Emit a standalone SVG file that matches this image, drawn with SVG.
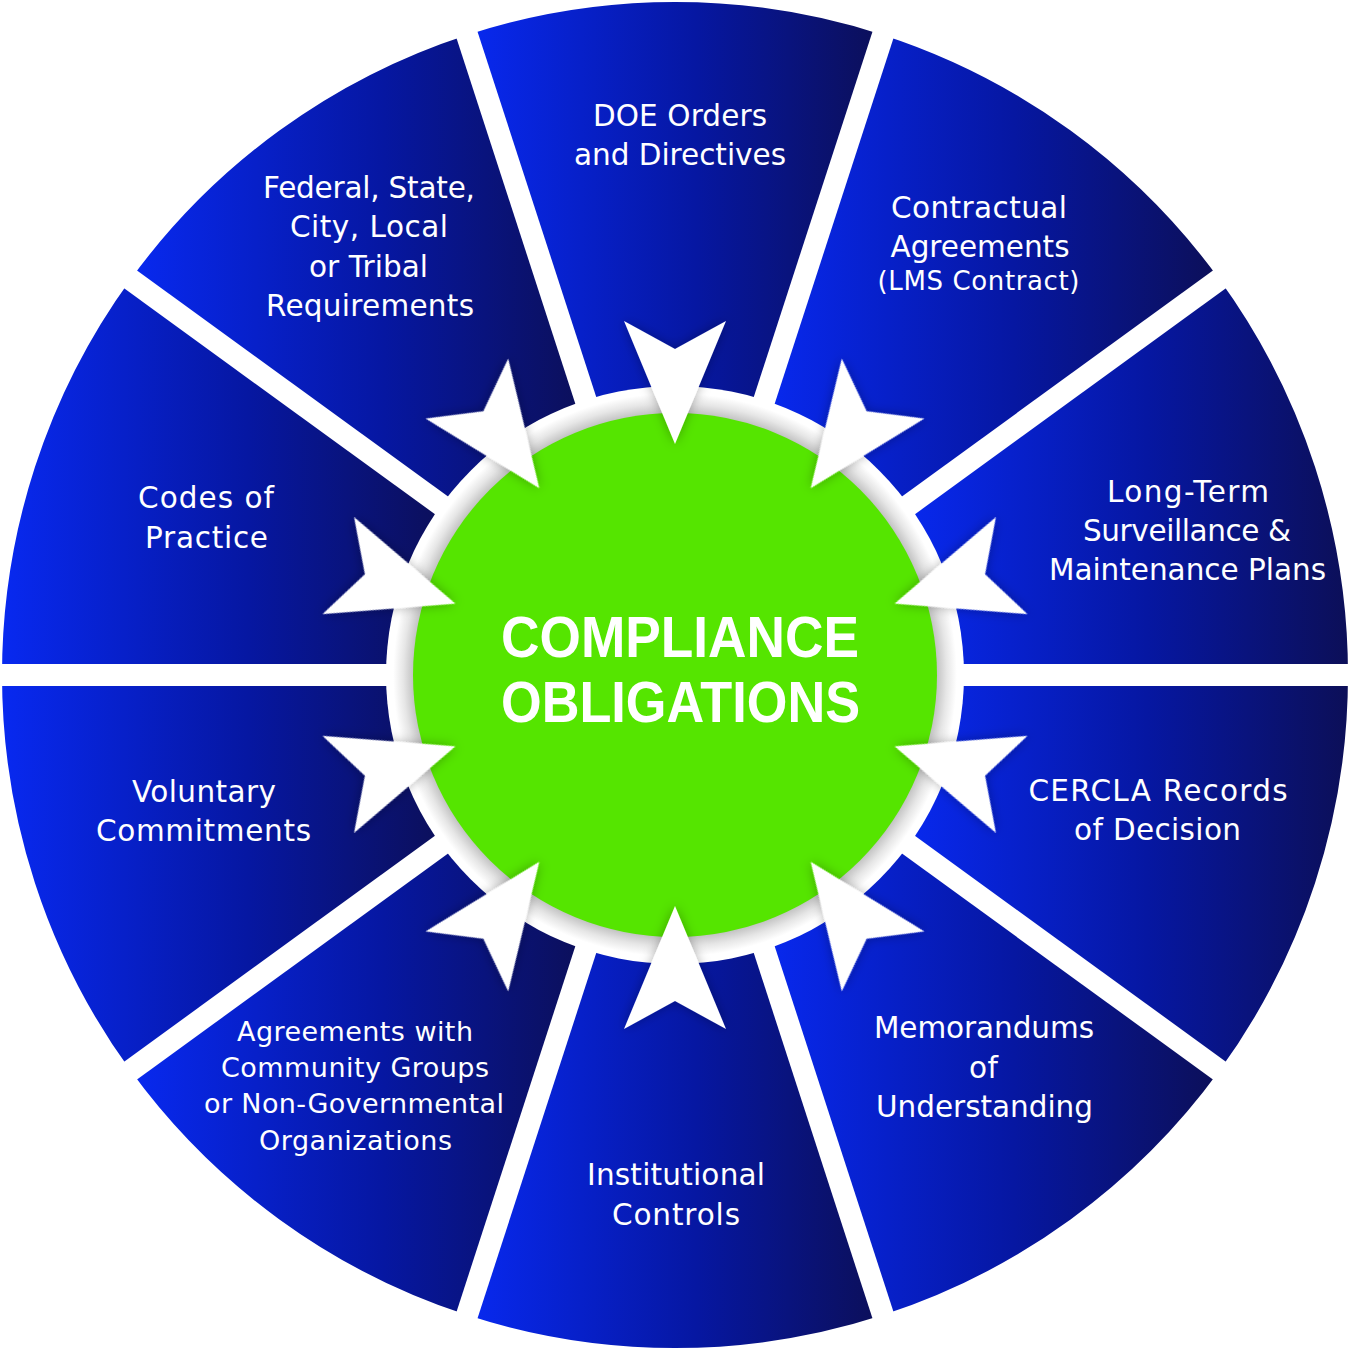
<svg xmlns="http://www.w3.org/2000/svg" width="1350" height="1353" viewBox="0 0 1350 1353">
<defs>
<linearGradient id="wg" x1="0" y1="0" x2="1" y2="0">
<stop offset="0" stop-color="#0829f0"/>
<stop offset="0.55" stop-color="#0617a2"/>
<stop offset="1" stop-color="#0c0f58"/>
</linearGradient>
<radialGradient id="ringg" cx="675" cy="675" r="289" gradientUnits="userSpaceOnUse">
<stop offset="0.9" stop-color="#bdbdbd"/>
<stop offset="0.94" stop-color="#e6e6e6"/>
<stop offset="0.975" stop-color="#ffffff"/>
<stop offset="1" stop-color="#ffffff"/>
</radialGradient>
<filter id="sh" x="-30%" y="-30%" width="160%" height="160%">
<feDropShadow dx="0" dy="0" stdDeviation="6" flood-color="#000" flood-opacity="0.3"/>
</filter>
<polygon id="arrow" points="675,444 624,321 675,349 726,321"/>
</defs>
<style>
.wedge{fill:url(#wg)}
.lbl{font-family:"DejaVu Sans","Liberation Sans",sans-serif;font-size:29.5px;font-weight:400;fill:#fff;text-anchor:middle}
.sm{font-size:27px}
.xs{font-size:26px}
.title{font-family:"Liberation Sans",Arial,sans-serif;font-size:58px;font-weight:700;fill:#fff;text-anchor:middle}
.gap{stroke:#fff;stroke-width:22;fill:none}
.arr{fill:#fff;filter:url(#sh)}
</style>
<rect width="1350" height="1353" fill="#fff"/>

<g id="node-doe">
<path class="wedge" d="M467.03,34.94 A673,673 0 0 1 882.97,34.94 L761.53,408.70 A280,280 0 0 0 588.47,408.70 Z"/>
<text class="lbl" x="680" y="126" textLength="174">DOE Orders</text>
<text class="lbl" x="680" y="165" textLength="212">and Directives</text>
</g>
<g id="node-contractual">
<path class="wedge" d="M882.97,34.94 A673,673 0 0 1 1219.47,279.42 L901.53,510.42 A280,280 0 0 0 761.53,408.70 Z"/>
<text class="lbl" x="979" y="218" textLength="176">Contractual</text>
<text class="lbl" x="980" y="257" textLength="179">Agreements</text>
<text class="lbl xs" x="978.5" y="290" textLength="202">(LMS Contract)</text>
</g>
<g id="node-ltsm">
<path class="wedge" d="M1219.47,279.42 A673,673 0 0 1 1348,675 L955,675 A280,280 0 0 0 901.53,510.42 Z"/>
<text class="lbl" x="1188" y="502" textLength="162">Long-Term</text>
<text class="lbl" x="1187" y="541" textLength="208">Surveillance &amp;</text>
<text class="lbl" x="1187.5" y="580" textLength="277">Maintenance Plans</text>
</g>
<g id="node-cercla">
<path class="wedge" d="M1348,675 A673,673 0 0 1 1219.47,1070.58 L901.53,839.58 A280,280 0 0 0 955,675 Z"/>
<text class="lbl" x="1158" y="801" textLength="259">CERCLA Records</text>
<text class="lbl" x="1157.5" y="840" textLength="167">of Decision</text>
</g>
<g id="node-mou">
<path class="wedge" d="M1219.47,1070.58 A673,673 0 0 1 882.97,1315.06 L761.53,941.30 A280,280 0 0 0 901.53,839.58 Z"/>
<text class="lbl" x="984" y="1038" textLength="220">Memorandums</text>
<text class="lbl" x="983.5" y="1078" textLength="29">of</text>
<text class="lbl" x="984.5" y="1117" textLength="217">Understanding</text>
</g>
<g id="node-institutional">
<path class="wedge" d="M882.97,1315.06 A673,673 0 0 1 467.03,1315.06 L588.47,941.30 A280,280 0 0 0 761.53,941.30 Z"/>
<text class="lbl" x="676" y="1185" textLength="178">Institutional</text>
<text class="lbl" x="676" y="1225" textLength="128">Controls</text>
</g>
<g id="node-community">
<path class="wedge" d="M467.03,1315.06 A673,673 0 0 1 130.53,1070.58 L448.47,839.58 A280,280 0 0 0 588.47,941.30 Z"/>
<text class="lbl sm" x="355" y="1041" textLength="236">Agreements with</text>
<text class="lbl sm" x="355" y="1077" textLength="268">Community Groups</text>
<text class="lbl sm" x="354" y="1113" textLength="300">or Non-Governmental</text>
<text class="lbl sm" x="355.5" y="1150" textLength="193">Organizations</text>
</g>
<g id="node-voluntary">
<path class="wedge" d="M130.53,1070.58 A673,673 0 0 1 2,675 L395,675 A280,280 0 0 0 448.47,839.58 Z"/>
<text class="lbl" x="204" y="802" textLength="144">Voluntary</text>
<text class="lbl" x="203.5" y="841" textLength="215">Commitments</text>
</g>
<g id="node-codes">
<path class="wedge" d="M2,675 A673,673 0 0 1 130.53,279.42 L448.47,510.42 A280,280 0 0 0 395,675 Z"/>
<text class="lbl" x="206" y="508" textLength="136">Codes of</text>
<text class="lbl" x="206.5" y="548" textLength="123">Practice</text>
</g>
<g id="node-federal">
<path class="wedge" d="M130.53,279.42 A673,673 0 0 1 467.03,34.94 L588.47,408.70 A280,280 0 0 0 448.47,510.42 Z"/>
<text class="lbl" x="369" y="198" textLength="212">Federal, State,</text>
<text class="lbl" x="369" y="237" textLength="158">City, Local</text>
<text class="lbl" x="368.5" y="277" textLength="119">or Tribal</text>
<text class="lbl" x="370" y="316" textLength="208">Requirements</text>
</g>

<g id="separators">
<line class="gap" x1="675" y1="675" x2="1365" y2="675"/>
<line class="gap" x1="675" y1="675" x2="1233.2" y2="1080.6"/>
<line class="gap" x1="675" y1="675" x2="888.2" y2="1331.2"/>
<line class="gap" x1="675" y1="675" x2="461.8" y2="1331.2"/>
<line class="gap" x1="675" y1="675" x2="116.8" y2="1080.6"/>
<line class="gap" x1="675" y1="675" x2="-15" y2="675"/>
<line class="gap" x1="675" y1="675" x2="116.8" y2="269.4"/>
<line class="gap" x1="675" y1="675" x2="461.8" y2="18.8"/>
<line class="gap" x1="675" y1="675" x2="888.2" y2="18.8"/>
<line class="gap" x1="675" y1="675" x2="1233.2" y2="269.4"/>
</g>

<g id="center">
<circle cx="675" cy="675" r="289" fill="url(#ringg)"/>
<circle cx="675" cy="675" r="262" fill="#55e500"/>
<text class="title" x="680" y="657" textLength="358" lengthAdjust="spacingAndGlyphs">COMPLIANCE</text>
<text class="title" x="680.5" y="722" textLength="359" lengthAdjust="spacingAndGlyphs">OBLIGATIONS</text>
</g>

<g id="connectors">
<use href="#arrow" class="arr"/>
<use href="#arrow" class="arr" transform="rotate(36 675 675)"/>
<use href="#arrow" class="arr" transform="rotate(72 675 675)"/>
<use href="#arrow" class="arr" transform="rotate(108 675 675)"/>
<use href="#arrow" class="arr" transform="rotate(144 675 675)"/>
<use href="#arrow" class="arr" transform="rotate(180 675 675)"/>
<use href="#arrow" class="arr" transform="rotate(216 675 675)"/>
<use href="#arrow" class="arr" transform="rotate(252 675 675)"/>
<use href="#arrow" class="arr" transform="rotate(288 675 675)"/>
<use href="#arrow" class="arr" transform="rotate(324 675 675)"/>
</g>
</svg>
